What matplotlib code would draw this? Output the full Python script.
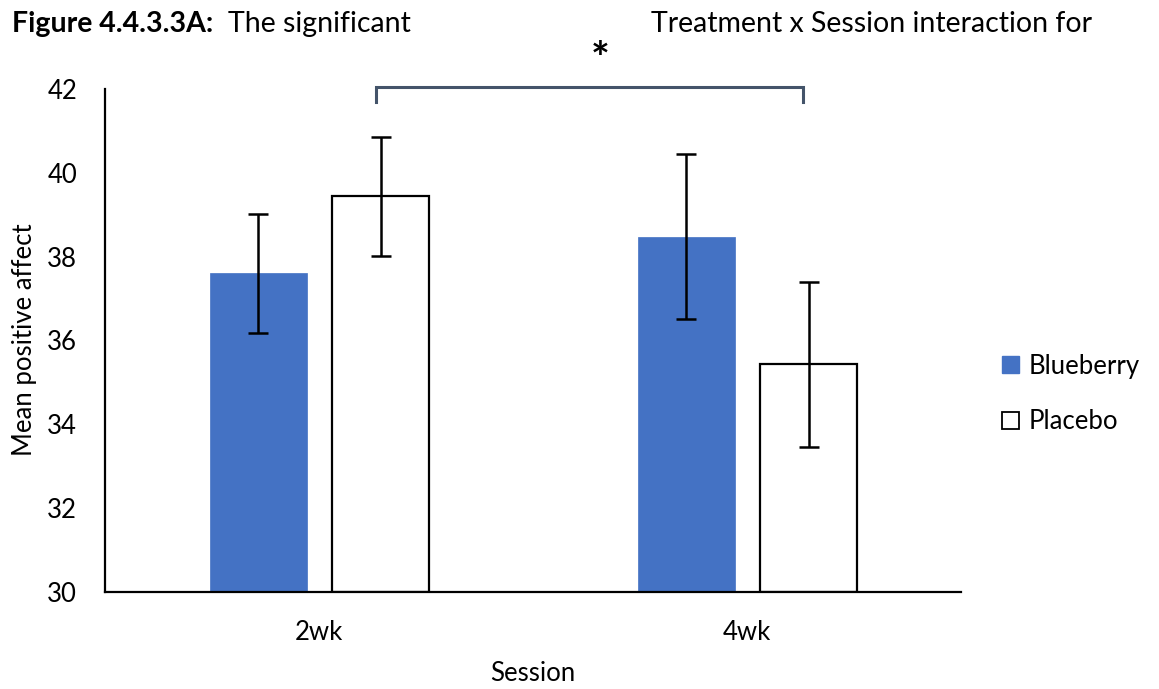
import matplotlib
matplotlib.use("Agg")
import matplotlib.pyplot as plt
import numpy as np
from matplotlib.patches import Patch

plt.rcParams['font.family'] = ['Lato', 'DejaVu Sans']

sessions = ["2wk", "4wk"]
treatments = ["Blueberry", "Placebo"]
blueberry_means = [37.6, 38.48]
blueberry_err = [1.42, 1.96]
placebo_means = [39.44, 35.43]
placebo_err = [1.42, 1.97]
yticks = [30, 32, 34, 36, 38, 40, 42]

BLUE = "#4472C4"
FS = 18.5
fig = plt.figure(figsize=(11.59, 6.89), dpi=100)
ax = fig.add_axes([105/1159, 97/689, 856/1159, 503/689])

x = np.arange(len(sessions))
w = 0.2266
off = 0.142
ax.bar(x - off, np.array(blueberry_means) - 30, w, bottom=30, color=BLUE, edgecolor=BLUE, linewidth=0.5,
       yerr=blueberry_err, error_kw=dict(ecolor='black', elinewidth=1.8, capsize=7, capthick=1.8))
ax.bar(x + off + 0.002, np.array(placebo_means) - 30, w, bottom=30, color='white', edgecolor='black', linewidth=1.6,
       yerr=placebo_err, error_kw=dict(ecolor='black', elinewidth=1.8, capsize=7, capthick=1.8))

ax.set_xlim(-0.5, 1.5)
ax.set_ylim(30, 42)
ax.set_yticks(yticks)
ax.set_xticks(x)
ax.set_xticklabels(sessions)
ax.tick_params(axis='both', length=0, labelsize=FS, colors='black')
ax.tick_params(axis='y', pad=20)
ax.tick_params(axis='x', pad=20)
for s in ['top', 'right']:
    ax.spines[s].set_visible(False)
ax.spines['left'].set_linewidth(1.6)
ax.spines['bottom'].set_linewidth(1.6)
ax.set_xlabel("Session", fontsize=FS, labelpad=12)
fig.text(25/1159, 1 - 340/689, "Mean positive affect", fontsize=FS, rotation=90, ha='center', va='center')

# significance bracket
bx0 = x[0] + off - 0.008
bx1 = x[1] + off - 0.01
ax.plot([bx0, bx0, bx1, bx1], [41.68, 42.05, 42.05, 41.68], color="#44546A", lw=2.2,
        clip_on=False, solid_joinstyle='miter')
fig.text(600/1159, 1 - 60/689, "*", fontsize=32, ha='center', va='center', fontweight='bold')

# title
TS = 20.5
fig.text(12/1159, 1 - 24/689, "Figure 4.4.3.3A:", fontsize=TS, fontweight='bold', ha='left', va='center')
fig.text(228/1159, 1 - 24/689, "The significant", fontsize=TS, ha='left', va='center')
fig.text(651/1159, 1 - 24/689, "Treatment x Session interaction for", fontsize=TS, ha='left', va='center')

handles = [Patch(facecolor=BLUE, edgecolor=BLUE), Patch(facecolor='white', edgecolor='black', linewidth=1.3)]
fig.legend(handles, treatments, loc='center left', bbox_to_anchor=(979/1159, 1 - 394/689), frameon=False,
           fontsize=FS, handlelength=0.65, handleheight=0.65, handletextpad=0.4, labelspacing=1.2)

fig.savefig("out.png", dpi=100)
